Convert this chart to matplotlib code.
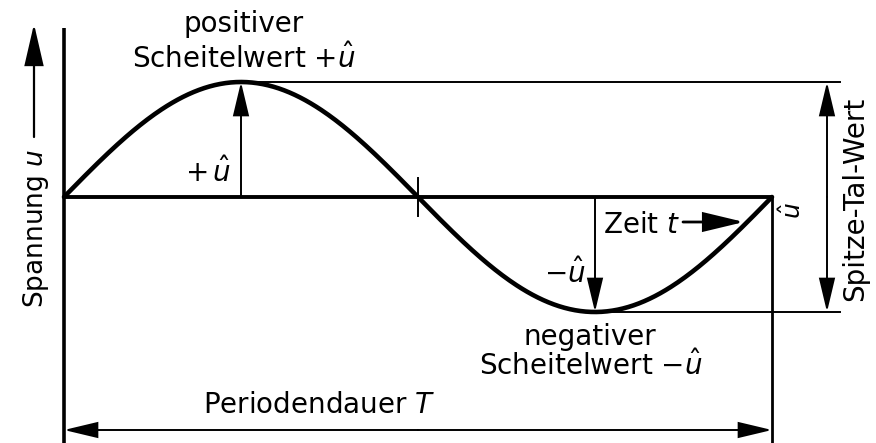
import numpy as np
import matplotlib
matplotlib.use("Agg")
import matplotlib.pyplot as plt
from matplotlib.patches import FancyArrowPatch

# ---- data ----
period_T = 1.0          # Periodendauer T
u_hat = 1.0             # Scheitelwert û
t_points = np.linspace(0.0, period_T, 400)
u_points = u_hat * np.sin(2 * np.pi * t_points / period_T)

labels = {
    "pos1": "positiver",
    "pos2": r"Scheitelwert $+\hat{u}$",
    "neg1": "negativer",
    "neg2": r"Scheitelwert $-\hat{u}$",
    "plus": r"$+\,\hat{u}$",
    "minus": r"$-\hat{u}$",
    "zeit": r"Zeit $t$",
    "periode": r"Periodendauer $T$",
    "spitze": "Spitze-Tal-Wert",
    "uhat": r"$\hat{u}$",
    "spannung": r"Spannung $u$",
}

# ---- figure geometry ----
W, H = 876, 443
X0, XT = 64, 772        # pixel x of t=0 and t=T
Y0, YU = 197, 115       # pixel y of u=0, pixels per û

def px(x, y):
    return ((x - X0) / (XT - X0) * period_T, (Y0 - y) / YU * u_hat)

plt.rcParams['font.family'] = ['DejaVu Sans']
plt.rcParams['mathtext.fontset'] = 'dejavusans'
FS = 20

fig = plt.figure(figsize=(W / 100, H / 100), dpi=100)
ax = fig.add_axes([0, 0, 1, 1])
xl0, yb = px(0, H)
xl1, yt = px(W, 0)
ax.set_xlim(xl0, xl1)
ax.set_ylim(yb, yt)
ax.axis('off')

K = 'black'
THIN = 1.4

# vertical axis
ax.plot([0, 0], [px(0, 28)[1], yb], color=K, lw=2.6, solid_capstyle='butt')
# zero line
ax.plot([0, period_T], [0, 0], color=K, lw=2.8, solid_capstyle='butt')
# sine
ax.plot(t_points, u_points, color=K, lw=3.3, solid_capstyle='round')

x_ext = px(840, 0)[0]
# peak / trough extension lines
ax.plot([period_T / 4, x_ext], [u_hat, u_hat], color=K, lw=THIN)
ax.plot([3 * period_T / 4, x_ext], [-u_hat, -u_hat], color=K, lw=THIN)
# right vertical line at T
ax.plot([period_T, period_T], [0, yb], color=K, lw=2.0, solid_capstyle='butt')
# tick at zero crossing
ax.plot([period_T / 2, period_T / 2], [px(0, 178)[1], px(0, 216)[1]], color=K, lw=THIN)


def arrow(p0, p1, style='-|>', hl=21, hw=5.0, lw=THIN):
    a = FancyArrowPatch(p0, p1,
                        arrowstyle=f'{style},head_length={hl},head_width={hw}',
                        mutation_scale=1, lw=lw, color=K,
                        shrinkA=0, shrinkB=0, joinstyle='miter')
    ax.add_patch(a)

# +û and -û arrows
arrow((period_T / 4, 0), (period_T / 4, u_hat))
arrow((3 * period_T / 4, 0), (3 * period_T / 4, -u_hat))
# Spitze-Tal-Wert dimension
xd = px(827, 0)[0]
arrow((xd, 0), (xd, u_hat))
arrow((xd, 0), (xd, -u_hat))
# Periodendauer dimension
yd = px(0, 430)[1]
arrow((period_T / 2, yd), (0, yd))
arrow((period_T / 2, yd), (period_T, yd))
# Zeit arrow
arrow(px(683, 222), px(744, 222), hl=25, hw=6.0, lw=2.0)
# Spannung arrow
arrow(px(34, 137), px(34, 24), hl=26, hw=6.0, lw=1.6)

def txt(s, xy, fs=FS, **kw):
    ax.text(xy[0], xy[1], s, fontsize=fs, color=K, **kw)

txt(labels["pos1"], px(244, 32), ha='center', va='baseline')
txt(labels["pos2"], px(244, 68), ha='center', va='baseline')
txt(labels["neg1"], px(590, 345), ha='center', va='baseline')
txt(labels["neg2"], px(591, 375), ha='center', va='baseline')
txt(labels["plus"], px(231, 182), ha='right', va='baseline')
txt(labels["minus"], px(586, 283), ha='right', va='baseline')
txt(labels["zeit"], px(603, 233), ha='left', va='baseline')
txt(labels["periode"], px(319, 413), ha='center', va='baseline')
txt(labels["spitze"], px(863, 199), ha='center', va='baseline',
    rotation=90, rotation_mode='anchor')
txt(labels["uhat"], px(801, 211), fs=18, ha='center', va='baseline',
    rotation=90, rotation_mode='anchor')
txt(labels["spannung"], px(43, 308), fs=19, ha='left', va='baseline',
    rotation=90, rotation_mode='anchor')

fig.savefig('out.png', dpi=100)
